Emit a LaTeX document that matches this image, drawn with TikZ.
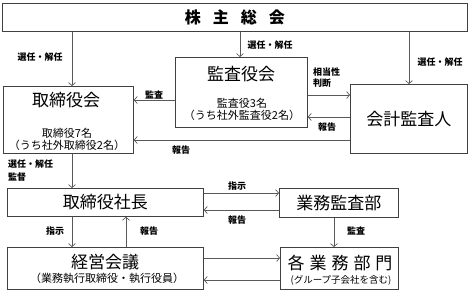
\documentclass[tikz,border=0pt]{standalone}
\usepackage{fontspec}
\setmainfont{Noto Sans CJK JP}
\usetikzlibrary{arrows.meta}
\definecolor{boxc}{HTML}{404040}
\definecolor{linec}{HTML}{595959}
\begin{document}
\begin{tikzpicture}[x=1pt,y=-1pt,
 box/.style={draw=boxc, line width=0.8pt, inner sep=0pt, anchor=north west},
 conn/.style={draw=linec, line width=0.7pt, -{Straight Barb[length=3pt,width=7pt]}},
 lbl/.style={inner sep=0pt, font=\fontsize{9}{11}\selectfont\bfseries},
 ttl/.style={inner sep=0pt, font=\fontsize{17}{20}\selectfont},
 subt/.style={inner sep=0pt, font=\fontsize{11}{12}\selectfont, align=center}]
\useasboundingbox (0,0) rectangle (470,290);

\node[box, minimum width=465pt, minimum height=28pt, font=\fontsize{16}{18}\selectfont\bfseries] (soukai) at (2,3) {株\hspace{12pt}主\hspace{12pt}総\hspace{12pt}会};

\node[box, minimum width=130pt, minimum height=67pt] (tori) at (3,86) {};
\node[ttl] (toriT) at (66,100) {取締役会};
\node[subt] (toriS) at (67,139) {取締役7名\\（うち社外取締役2名）};

\node[box, minimum width=132pt, minimum height=70pt] (kansa) at (175,57) {};
\node[ttl] (kansaT) at (241,74) {監査役会};
\node[subt] (kansaS) at (242,109) {監査役3名\\（うち社外監査役2名）};

\node[box, minimum width=117pt, minimum height=69pt, font=\fontsize{17}{20}\selectfont] (kaikei) at (350,84) {会計監査人};

\node[box, minimum width=196pt, minimum height=28pt, font=\fontsize{17}{20}\selectfont] (shacho) at (7,188) {取締役社長};
\node[box, minimum width=119pt, minimum height=29pt, font=\fontsize{17}{20}\selectfont] (gyomu) at (279,188) {業務監査部};

\node[box, minimum width=196pt, minimum height=42pt] (keiei) at (7,247) {};
\node[ttl] (keieiT) at (105,262) {経営会議};
\node[subt] (keieiS) at (107,278) {（業務執行取締役・執行役員）};

\node[box, minimum width=118pt, minimum height=42pt] (kaku) at (280,247) {};
\node[ttl] (kakuT) at (340,263) {各\hspace{5pt}業\hspace{5pt}務\hspace{5pt}部\hspace{5pt}門};
\node[subt, font=\fontsize{9.5}{11}\selectfont] (kakuS) at (341,280) {(グループ子会社を含む)};

\draw[conn] (soukai.south -| 72,0) -- (tori.north -| 72,0);
\draw[conn] (soukai.south -| 240,0) -- (kansa.north -| 240,0);
\draw[conn] (soukai.south -| 409,0) -- (kaikei.north -| 409,0);
\draw[conn] (kansa.west |- 0,100) -- (tori.east |- 0,100);
\draw[conn] (kansa.east |- 0,95) -- (kaikei.west |- 0,95);
\draw[conn] (kaikei.west |- 0,117) -- (kansa.east |- 0,117);
\draw[conn] (kaikei.west |- 0,140) -- (tori.east |- 0,140);
\draw[conn] (tori.south -| 72,0) -- (shacho.north -| 72,0);
\draw[conn] (shacho.east |- 0,193) -- (gyomu.west |- 0,193);
\draw[conn] (gyomu.west |- 0,210) -- (shacho.east |- 0,210);
\draw[conn] (shacho.south -| 72,0) -- (keiei.north -| 72,0);
\draw[conn] (keiei.north -| 126,0) -- (shacho.south -| 126,0);
\draw[conn] (gyomu.south -| 334,0) -- (kaku.north -| 334,0);
\draw[conn] (keiei.east |- 0,258) -- (kaku.west |- 0,258);
\draw[conn] (kaku.west |- 0,280) -- (keiei.east |- 0,280);

\node[lbl] (l1) at (40,57) {選任・解任};
\node[lbl] (l2) at (270,45) {選任・解任};
\node[lbl] (l3) at (440,62) {選任・解任};
\node[lbl] (l4) at (154,95) {監査};
\node[lbl, align=left, anchor=west] (l5) at (313,78) {相当性\\判断};
\node[lbl] (l6) at (327,127) {報告};
\node[lbl] (l7) at (181,150) {報告};
\node[lbl, align=left, anchor=west, font=\fontsize{9}{13}\selectfont\bfseries] (l8) at (8,171) {選任・解任\\監督};
\node[lbl] (l9) at (237,186) {指示};
\node[lbl] (l10) at (237,220) {報告};
\node[lbl] (l11) at (55,231) {指示};
\node[lbl] (l12) at (149,231) {報告};
\node[lbl] (l13) at (356,231) {監査};
\end{tikzpicture}
\end{document}
